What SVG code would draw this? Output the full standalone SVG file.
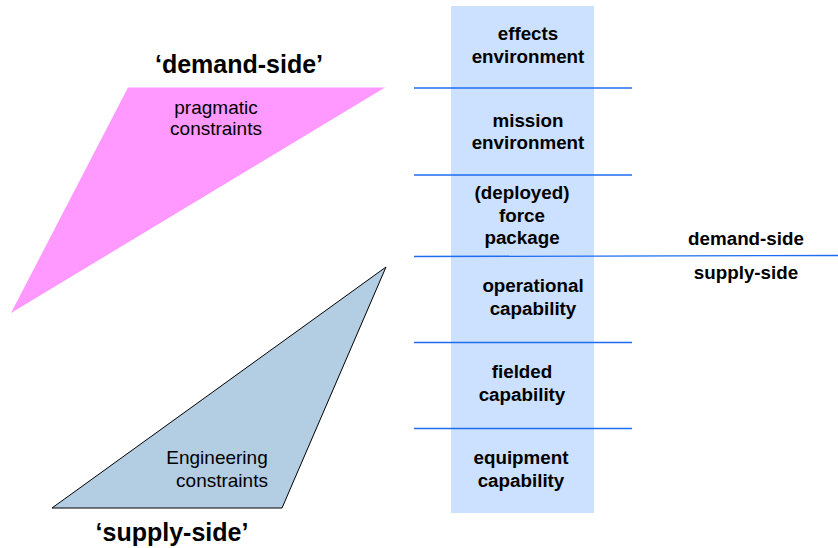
<svg xmlns="http://www.w3.org/2000/svg" width="838" height="548" viewBox="0 0 838 548">
<style>
.b{font-family:"Liberation Sans",Arial,sans-serif;font-weight:bold;font-size:18.8px;fill:#000;text-anchor:middle}
.r{font-family:"Liberation Sans",Arial,sans-serif;font-size:19px;fill:#000;text-anchor:middle}
.t{font-family:"Liberation Sans",Arial,sans-serif;font-weight:bold;font-size:25px;fill:#000;text-anchor:middle}
.ln{stroke:#1f6cf0;stroke-width:1.3;fill:none}
</style>
<rect width="838" height="548" fill="#fff"/>
<g id="column">
<rect x="451" y="6" width="143" height="507" fill="#cce0ff"/>
</g>
<g id="connectors">
<line class="ln" x1="414" y1="88" x2="632" y2="88"/>
<line class="ln" x1="414" y1="175" x2="632" y2="175"/>
<line class="ln" x1="414" y1="256.5" x2="838" y2="255.5"/>
<line class="ln" x1="414" y1="342.5" x2="632" y2="342.5"/>
<line class="ln" x1="414" y1="428.5" x2="632" y2="428.5"/>
</g>
<g id="demand-triangle">
<polygon points="128,87.5 385,87.5 11,313" fill="#ff99ff"/>
<text class="r" x="216" y="114">pragmatic</text>
<text class="r" x="216" y="135">constraints</text>
</g>
<g id="supply-triangle">
<polygon points="386,267 282,508 52,508" fill="#b3cde3" stroke="#000" stroke-width="1"/>
<text class="r" x="217" y="464">Engineering</text>
<text class="r" x="222" y="487">constraints</text>
</g>
<g id="demand-title"><text class="t" x="239" y="73">‘demand-side’</text></g>
<g id="supply-title"><text class="t" x="172" y="541">‘supply-side’</text></g>
<g id="effects"><text class="b" x="528" y="40">effects</text><text class="b" x="528" y="63">environment</text></g>
<g id="mission"><text class="b" x="528" y="127">mission</text><text class="b" x="528" y="149">environment</text></g>
<g id="force"><text class="b" x="522" y="199">(deployed)</text><text class="b" x="522" y="222">force</text><text class="b" x="522" y="244">package</text></g>
<g id="operational"><text class="b" x="533" y="292">operational</text><text class="b" x="533" y="315">capability</text></g>
<g id="fielded"><text class="b" x="522" y="378">fielded</text><text class="b" x="522" y="401">capability</text></g>
<g id="equipment"><text class="b" x="521" y="464">equipment</text><text class="b" x="521" y="487">capability</text></g>
<g id="demand-label"><text class="b" x="746" y="245">demand-side</text></g>
<g id="supply-label"><text class="b" x="746" y="279">supply-side</text></g>
</svg>
